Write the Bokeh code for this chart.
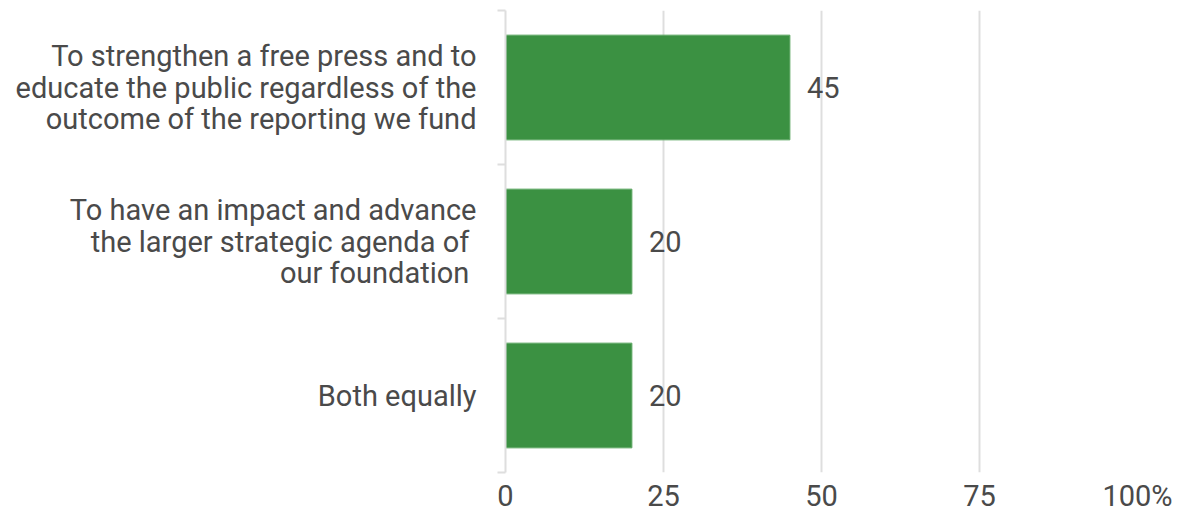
from bokeh.plotting import figure
from bokeh.models import FixedTicker, Range1d, ColumnDataSource
from bokeh.core.properties import value
from bokeh.embed import file_html
from bokeh.resources import INLINE

categories = [
    "To strengthen a free press and to\neducate the public regardless of the\noutcome of the reporting we fund",
    "To have an impact and advance\nthe larger strategic agenda of \nour foundation ",
    "Both equally",
]
values = [45, 20, 20]
x_ticks = [0, 25, 50, 75, 100]
x_tick_labels = ["0", "25", "50", "75", "100%"]

FONT = "Roboto"
TEXT_COLOR = "#4a4a4a"
BAR_COLOR = "#3b9142"
GRID_COLOR = "#dedede"
FS = "29px"

n = len(categories)
ypos = [n - 1 - i for i in range(n)]

p = figure(width=1180, height=515, output_backend="svg", toolbar_location=None,
           x_range=Range1d(0, 100), y_range=Range1d(-0.5, n - 0.5),
           min_border_left=505, min_border_right=43, min_border_top=10, min_border_bottom=0)
p.outline_line_color = None

src = ColumnDataSource(dict(y=ypos, v=values, lbl=[str(v) for v in values]))
p.hbar(y="y", right="v", left=0, height=0.68, source=src,
       fill_color=BAR_COLOR, line_color="#5fa865", line_width=1)
p.text(x="v", y="y", text="lbl", source=src, x_offset=17,
       text_align="left", text_baseline="middle",
       text_font=value(FONT), text_font_size=FS, text_color=TEXT_COLOR)

# x axis
xa = p.xaxis[0]
xa.ticker = FixedTicker(ticks=x_ticks)
xa.major_label_overrides = {t: l for t, l in zip(x_ticks, x_tick_labels)}
xa.axis_line_color = None
xa.major_tick_line_color = None
xa.major_tick_out = 0
xa.major_tick_in = 0
xa.minor_tick_line_color = None
xa.major_label_standoff = 6
xa.major_label_text_font = FONT
xa.major_label_text_font_size = FS
xa.major_label_text_color = TEXT_COLOR

# y axis
ya = p.yaxis[0]
ya.ticker = FixedTicker(ticks=ypos, minor_ticks=[i - 0.5 for i in range(n + 1)])
ya.major_label_overrides = {y: c for y, c in zip(ypos, categories)}
ya.axis_line_color = GRID_COLOR
ya.axis_line_width = 2
ya.major_tick_line_color = None
ya.major_tick_out = 0
ya.major_tick_in = 0
ya.minor_tick_line_color = GRID_COLOR
ya.minor_tick_line_width = 2
ya.minor_tick_out = 8
ya.minor_tick_in = 0
ya.major_label_standoff = 21
ya.major_label_text_font = FONT
ya.major_label_text_font_size = FS
ya.major_label_text_color = TEXT_COLOR
ya.major_label_text_align = "right"
ya.major_label_text_line_height = 0.93

p.ygrid.visible = False
p.xgrid.grid_line_color = GRID_COLOR
p.xgrid.grid_line_width = 2

open("out.html", "w").write(file_html(p, INLINE))
